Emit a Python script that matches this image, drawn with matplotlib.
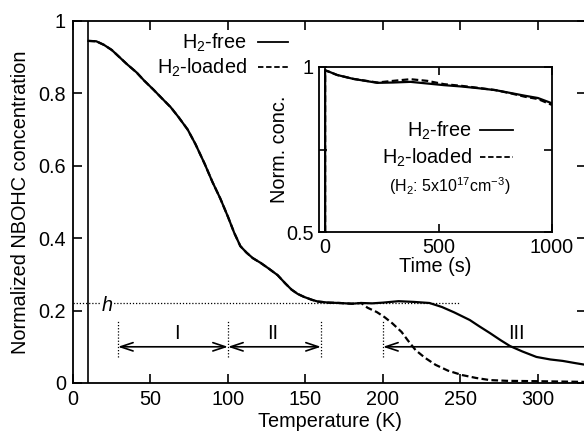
import matplotlib
matplotlib.use("Agg")
import matplotlib.pyplot as plt
from matplotlib.lines import Line2D

plt.rcParams['font.family'] = ['Liberation Sans', 'DejaVu Sans']
plt.rcParams['mathtext.fontset'] = 'custom'
plt.rcParams['mathtext.rm'] = 'Liberation Sans'
plt.rcParams['mathtext.it'] = 'Liberation Sans:italic'

# ---- main data (temperature in K, normalized NBOHC concentration) ----
temp_free = [10, 15, 20, 25, 30, 35, 41, 46, 52, 57, 63, 68, 74, 79, 85, 90, 95, 100,
             104, 108, 112, 116, 121, 126, 132, 137, 141, 145, 149, 154, 158, 165, 172,
             180, 186, 193, 200, 210, 220, 230, 238, 246, 256, 262, 269, 276, 282, 290,
             299, 308, 316, 324, 331]
conc_free = [0.945, 0.944, 0.934, 0.92, 0.90, 0.88, 0.858, 0.835, 0.81, 0.788, 0.762, 0.735,
             0.70, 0.66, 0.605, 0.555, 0.51, 0.459, 0.415, 0.378, 0.36, 0.345, 0.332, 0.317,
             0.298, 0.275, 0.258, 0.246, 0.238, 0.23, 0.225, 0.222, 0.221, 0.219, 0.221,
             0.22, 0.222, 0.226, 0.224, 0.221, 0.21, 0.195, 0.174, 0.157, 0.138, 0.118,
             0.102, 0.087, 0.072, 0.065, 0.061, 0.055, 0.05]
temp_loaded = [10, 15, 20, 25, 30, 35, 41, 46, 52, 57, 63, 68, 74, 79, 85, 90, 95, 100,
               104, 108, 112, 116, 121, 126, 132, 137, 141, 145, 149, 154, 158, 165, 172,
               180, 186, 190, 196, 201, 206, 212, 216, 221, 227, 234, 242, 251, 260, 269,
               280, 299, 315, 331]
conc_loaded = [0.945, 0.944, 0.934, 0.92, 0.90, 0.88, 0.858, 0.835, 0.81, 0.788, 0.762, 0.735,
               0.70, 0.66, 0.605, 0.555, 0.51, 0.459, 0.415, 0.378, 0.36, 0.345, 0.332, 0.317,
               0.298, 0.275, 0.258, 0.246, 0.238, 0.23, 0.225, 0.222, 0.221, 0.219, 0.221,
               0.208, 0.196, 0.182, 0.165, 0.141, 0.118, 0.091, 0.07, 0.05, 0.034, 0.022,
               0.014, 0.008, 0.006, 0.005, 0.004, 0.003]

# ---- inset data (time in s, normalized concentration) ----
time_inset = [0, 0, 20, 52, 124, 230, 300, 376, 450, 524, 600, 672, 750, 819, 880, 938, 1000]
inset_free = [0.5, 0.99, 0.985, 0.976, 0.964, 0.952, 0.953, 0.955, 0.95, 0.945, 0.941,
              0.936, 0.93, 0.921, 0.913, 0.906, 0.89]
inset_loaded = [0.5, 0.99, 0.985, 0.976, 0.964, 0.953, 0.958, 0.963, 0.958, 0.948, 0.943,
                0.937, 0.93, 0.92, 0.91, 0.903, 0.885]

x_ticks = [0, 50, 100, 150, 200, 250, 300]
y_ticks = [0, 0.2, 0.4, 0.6, 0.8, 1.0]
y_tick_labels = ['0', '0.2', '0.4', '0.6', '0.8', '1']
inset_x_ticks = [0, 500, 1000]
inset_y_ticks = [0.5, 0.75, 1.0]
inset_y_labels = ['0.5', '', '1']

h_level = 0.22
region_bounds = [29, 100, 160, 200]
region_names = ['I', 'II', 'III']
region_label_x = [67, 129, 286]

W, H = 584, 433
fig = plt.figure(figsize=(W / 100, H / 100), dpi=100)

def fx(px):
    return px / W

def fy(py):
    return 1 - py / H

ax = fig.add_axes([fx(73), fy(383), fx(586) - fx(73), fy(21) - fy(383)])
FS = 14.3

ax.plot(temp_free, conc_free, color='black', lw=1.6)
ax.plot(temp_loaded, conc_loaded, color='black', lw=1.6, ls=(0, (3, 1.5)))
ax.axvline(9.5, color='black', lw=1.2)

ax.set_xlim(0, 331)
ax.set_ylim(0, 1)
ax.set_xticks(x_ticks)
ax.set_yticks(y_ticks)
ax.set_yticklabels(y_tick_labels)
ax.tick_params(direction='in', length=6.5, width=1.2, labelsize=FS,
               top=True, right=True, pad=5)
for s in ax.spines.values():
    s.set_linewidth(1.3)
ax.set_xlabel('Temperature (K)', fontsize=FS, labelpad=2)
ax.set_ylabel('Normalized NBOHC concentration', fontsize=FS, labelpad=6)

# h line
ax.plot([0, 250], [h_level, h_level], color='black', lw=0.9, ls=(0, (1, 1.5)))
ax.text(22, h_level - 0.005, 'h', fontsize=FS, style='italic', ha='center', va='center',
        bbox=dict(facecolor='white', edgecolor='none', pad=1))

# region markers
for b in region_bounds:
    ax.plot([b, b], [0.072, 0.174], color='black', lw=0.9, ls=(0, (1, 1.5)))

arr_y = 0.10
aprops = dict(arrowstyle='<->,head_length=0.9,head_width=0.3', color='black', lw=1.2,
              shrinkA=0, shrinkB=0)
ax.annotate('', xy=(region_bounds[0], arr_y), xytext=(region_bounds[1], arr_y),
            arrowprops=aprops)
ax.annotate('', xy=(region_bounds[1], arr_y), xytext=(region_bounds[2], arr_y),
            arrowprops=aprops)
ax.annotate('', xy=(region_bounds[3], arr_y), xytext=(345, arr_y),
            arrowprops=dict(arrowstyle='->,head_length=0.9,head_width=0.3', color='black',
                            lw=1.2, shrinkA=0, shrinkB=0), annotation_clip=False)
# reverse so head is at 200
for name, xl in zip(region_names, region_label_x):
    ax.text(xl, 0.138, name, fontsize=FS, ha='center', va='center')

# main legend
fig.text(fx(247), fy(43), r'H$_2$-free', fontsize=FS, ha='right', va='center')
fig.text(fx(247), fy(68), r'H$_2$-loaded', fontsize=FS, ha='right', va='center')
fig.add_artist(Line2D([fx(258), fx(288)], [fy(42), fy(42)], color='black', lw=1.3,
                      transform=fig.transFigure))
fig.add_artist(Line2D([fx(258), fx(288)], [fy(67), fy(67)], color='black', lw=1.3,
                      ls=(0, (3, 1.5)), transform=fig.transFigure))

# inset
axi = fig.add_axes([fx(319), fy(232), fx(552) - fx(319), fy(67) - fy(232)])
axi.plot(time_inset, inset_free, color='black', lw=1.6)
axi.plot(time_inset, inset_loaded, color='black', lw=1.6, ls=(0, (3, 1.5)))
axi.set_xlim(-27, 1000)
axi.set_ylim(0.5, 1.0)
axi.set_xticks(inset_x_ticks)
axi.set_yticks(inset_y_ticks)
axi.set_yticklabels(inset_y_labels)
axi.tick_params(direction='in', length=6, width=1.2, labelsize=FS, top=True, right=True,
                pad=4)
for s in axi.spines.values():
    s.set_linewidth(1.3)
axi.set_xlabel('Time (s)', fontsize=FS, labelpad=0)
axi.set_ylabel('Norm. conc.', fontsize=FS, labelpad=-2)

fig.text(fx(472), fy(131), r'H$_2$-free', fontsize=FS, ha='right', va='center')
fig.text(fx(472), fy(158), r'H$_2$-loaded', fontsize=FS, ha='right', va='center')
fig.add_artist(Line2D([fx(480), fx(513)], [fy(130), fy(130)], color='black', lw=1.3,
                      transform=fig.transFigure))
fig.add_artist(Line2D([fx(480), fx(513)], [fy(157), fy(157)], color='black', lw=1.3,
                      ls=(0, (3, 1.5)), transform=fig.transFigure))
fig.text(fx(450), fy(186), r'(H$_2$: 5x10$^{17}$cm$^{-3}$)', fontsize=11.5,
         ha='center', va='center')

fig.savefig('out.png', dpi=100)
